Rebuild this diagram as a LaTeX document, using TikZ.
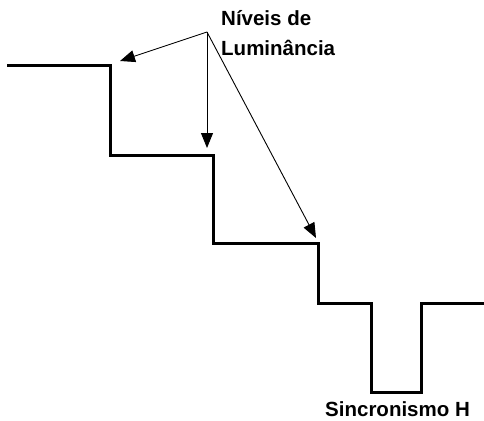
\documentclass[tikz,border=0pt]{standalone}
\usepackage{fontspec}
\setmainfont{Liberation Sans}
\usetikzlibrary{arrows.meta}

\begin{document}
\begin{tikzpicture}[x=1pt,y=-1pt,
    signal/.style={line width=3pt, line join=miter},
    pointer/.style={line width=0.9pt, -{Triangle[length=15pt,width=12pt]}},
    caption/.style={font=\fontsize{20.5}{30}\selectfont\bfseries, inner sep=0pt}]
        \useasboundingbox (0,0) rectangle (484,420);

        % Video signal with luminance steps and H sync
        \draw[signal] (7,65) -- (110,65) -- (110,155) -- (213,155) -- (213,243)
            -- (318,243) -- (318,303) -- (371,303) -- (371,392) -- (421,392)
            -- (421,303) -- (484,303);

        % Label and pointers to the levels
        \node[caption, anchor=north west, align=left] (levels) at (221,10) {Níveis de\\Luminância};
        \coordinate (src) at (207,32);
        \coordinate (lvlA) at (120,61);
        \coordinate (lvlB) at (207,148);
        \coordinate (lvlC) at (316,238);
        \draw[pointer] (src) -- (lvlA);
        \draw[pointer] (src) -- (lvlB);
        \draw[pointer] (src) -- (lvlC);

        % Sync label
        \node[caption, anchor=base west] (sync) at (325,416) {Sincronismo H};
    \end{tikzpicture}
\end{document}
